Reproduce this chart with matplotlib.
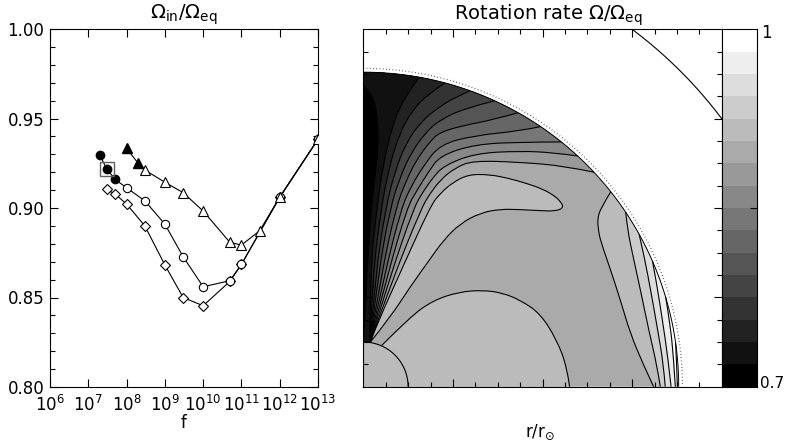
import numpy as np
import matplotlib
matplotlib.use("Agg")
import matplotlib.pyplot as plt
from matplotlib.path import Path
from matplotlib.patches import PathPatch
from matplotlib.ticker import MultipleLocator, FixedLocator, NullLocator

plt.rcParams['font.family'] = ['DejaVu Sans']
plt.rcParams['mathtext.default'] = 'regular'

# ---------------- left panel: Omega_in / Omega_eq versus f ----------------
f_circ = [2e7, 3e7, 5e7, 1e8, 3e8, 1e9, 3e9, 1e10, 5e10, 1e11, 1e12, 1e13]
om_circ = [0.9296, 0.9220, 0.9160, 0.9113, 0.9040, 0.8910, 0.8728, 0.8560,
           0.8594, 0.8685, 0.9060, 0.9384]
circ_filled = 3

f_tri = [1e8, 2e8, 3e8, 1e9, 3e9, 1e10, 5e10, 1e11, 3e11, 1e12, 1e13]
om_tri = [0.9333, 0.9250, 0.9212, 0.9144, 0.9086, 0.8983, 0.8808, 0.8793,
          0.8873, 0.9060, 0.9384]
tri_filled = 2

f_dia = [3e7, 5e7, 1e8, 3e8, 1e9, 3e9, 1e10, 5e10, 1e11, 1e12, 1e13]
om_dia = [0.9104, 0.9078, 0.9022, 0.8900, 0.8682, 0.8500, 0.8454, 0.8590,
          0.8685, 0.9060, 0.9384]

f_sel = 3e7
om_sel = 0.9220

x_decades = [6, 7, 8, 9, 10, 11, 12, 13]
y_ticks = [0.80, 0.85, 0.90, 0.95, 1.00]

# ---------------- right panel: contour lines of Omega/Omega_eq ----------------
# colour levels 0.7 ... 1.0 (16 bands)
band_count = 16
r_star = 1.408          # stellar surface
r_core = 0.2            # core boundary
r_dotted = 1.425
r_outer = 2.0
tip_theta = 8.6         # colatitude (deg) where the fan contours leave the core

# fan contours (level index, surface colatitude, interior points x / y)
lev2_x = [0.030, 0.060, 0.090, 0.130, 0.180]
lev2_y = [0.50, 0.80, 1.00, 1.17, 1.29]
lev3_x = [0.042, 0.080, 0.115, 0.160, 0.220, 0.290]
lev3_y = [0.50, 0.80, 0.98, 1.13, 1.24, 1.31]
lev4_x = [0.054, 0.100, 0.140, 0.190, 0.260, 0.343, 0.410]
lev4_y = [0.50, 0.80, 0.96, 1.09, 1.19, 1.255, 1.295]
lev5_x = [0.066, 0.120, 0.165, 0.215, 0.280, 0.343, 0.450]
lev5_y = [0.50, 0.80, 0.94, 1.05, 1.14, 1.195, 1.245]
lev6_x = [0.080, 0.145, 0.190, 0.240, 0.300, 0.343, 0.450, 0.580]
lev6_y = [0.50, 0.80, 0.92, 1.02, 1.10, 1.14, 1.17, 1.195]
lev7_x = [0.094, 0.170, 0.215, 0.270, 0.343, 0.500, 0.700]
lev7_y = [0.50, 0.80, 0.90, 0.99, 1.085, 1.125, 1.145]
lev8_x = [0.108, 0.195, 0.240, 0.290, 0.343, 0.500, 0.700]
lev8_y = [0.50, 0.80, 0.88, 0.96, 1.035, 1.085, 1.095]
lev9_x = [0.122, 0.225, 0.265, 0.310, 0.360, 0.500, 0.700, 0.850]
lev9_y = [0.50, 0.80, 0.87, 0.935, 0.99, 1.045, 1.055, 1.048]
lev10_x = [0.138, 0.260, 0.295, 0.343, 0.410, 0.490, 0.700, 0.900]
lev10_y = [0.50, 0.80, 0.86, 0.925, 0.98, 1.012, 1.005, 0.988]
fan_levels = [2, 3, 4, 5, 6, 7, 8, 9, 10]
fan_theta = [10.2, 15.0, 19.8, 24.6, 29.4, 34.2, 38.9, 42.8, 47.0]
fan_x = [lev2_x, lev3_x, lev4_x, lev5_x, lev6_x, lev7_x, lev8_x, lev9_x, lev10_x]
fan_y = [lev2_y, lev3_y, lev4_y, lev5_y, lev6_y, lev7_y, lev8_y, lev9_y, lev10_y]

# level-11 tongue: lower branch out to the tip, upper branch back
tongue_x = [0.120, 0.209, 0.290, 0.358, 0.432, 0.522, 0.611, 0.700, 0.790, 0.860,
            0.895, 0.880, 0.850, 0.800, 0.730, 0.641, 0.560, 0.470, 0.400, 0.343,
            0.300, 0.160, 0.070]
tongue_y = [0.310, 0.447, 0.560, 0.656, 0.730, 0.778, 0.795, 0.793, 0.788, 0.786,
            0.802, 0.830, 0.857, 0.885, 0.910, 0.935, 0.950, 0.950, 0.915, 0.865,
            0.810, 0.500, 0.300]

# level-11 arch around the core
arch_theta0 = 23.8
arch_x = [0.209, 0.313, 0.430, 0.536, 0.620, 0.700, 0.790, 0.864, 0.909]
arch_y = [0.313, 0.387, 0.425, 0.432, 0.420, 0.388, 0.328, 0.209, 0.089]
arch_r_eq = 0.921

# equatorial contours near the surface (levels 11 ... 16)
eq11_x = [1.060, 1.045, 1.050, 1.058, 1.105, 1.150, 1.192, 1.245]
eq11_y = [0.800, 0.750, 0.700, 0.656, 0.520, 0.380, 0.239, 0.110]
eq12_x = [1.180, 1.205, 1.240, 1.275, 1.310]
eq12_y = [0.700, 0.580, 0.420, 0.250, 0.100]
eq13_x = [1.255, 1.285, 1.315, 1.340]
eq13_y = [0.580, 0.420, 0.250, 0.100]
eq14_x = [1.310, 1.335, 1.360]
eq14_y = [0.460, 0.300, 0.130]
eq15_x = [1.370, 1.385]
eq15_y = [0.280, 0.130]
eq16_x = [1.400]
eq16_y = [0.080]
eq_levels = [11, 12, 13, 14, 15, 16]
eq_theta = [51.7, 56.3, 61.0, 66.5, 73.5, 82.0]
eq_r_bottom = [1.296, 1.326, 1.348, 1.374, 1.393, 1.402]
eq_x = [eq11_x, eq12_x, eq13_x, eq14_x, eq15_x, eq16_x]
eq_y = [eq11_y, eq12_y, eq13_y, eq14_y, eq15_y, eq16_y]

# slowest-rotating pocket along the axis (below level 1)
pocket_x = [0.000, 0.008, 0.015, 0.035, 0.060, 0.068, 0.062, 0.040, 0.000]
pocket_y = [0.215, 0.300, 0.500, 0.800, 1.000, 1.100, 1.220, 1.310, 1.345]


def band_color(i):
    g = min(max(i, 0), band_count - 1) / (band_count - 1)
    return (g, g, g)


def polar(r, th_deg):
    t = np.radians(th_deg)
    return np.array([r * np.sin(t), r * np.cos(t)])


def smooth(pts):
    pts = [np.asarray(p, float) for p in pts]
    n = len(pts)
    verts, codes = [pts[0]], [Path.LINETO]
    if n == 2:
        return verts + [pts[1]], codes + [Path.LINETO]
    for i in range(1, n - 1):
        end = pts[i + 1] if i == n - 2 else 0.5 * (pts[i] + pts[i + 1])
        verts += [pts[i], end]
        codes += [Path.CURVE3, Path.CURVE3]
    return verts, codes


def arc(r, t0, t1, n=120):
    th = np.linspace(t0, t1, n)
    return [polar(r, t) for t in th], [Path.LINETO] * n


def straight(pts):
    return [np.asarray(p, float) for p in pts], [Path.LINETO] * len(pts)


def build(pieces, closed=True):
    verts, codes = [], []
    for v, c in pieces:
        verts += list(v)
        codes += list(c)
    codes[0] = Path.MOVETO
    if closed:
        verts.append(verts[0])
        codes.append(Path.CLOSEPOLY)
    return Path(np.array(verts), codes)


fig = plt.figure(figsize=(7.86, 4.43), dpi=100)

# ---------------- left axes ----------------
W, H = 786.0, 443.0
ax1 = fig.add_axes([50 / W, 56 / H, 268 / W, 358 / H])
ax1.set_xscale('log')
ax1.set_xlim(1e6, 1e13)
ax1.set_ylim(0.80, 1.00)
lw = 0.8
ax1.plot(f_circ, om_circ, '-', color='k', lw=lw, zorder=2)
ax1.plot(f_tri, om_tri, '-', color='k', lw=lw, zorder=2)
ax1.plot(f_dia, om_dia, '-', color='k', lw=lw, zorder=2)
ax1.plot(f_dia, om_dia, 'D', ms=4.6, mfc='white', mec='k', mew=0.8, ls='none', zorder=3)
ax1.plot(f_circ[circ_filled:], om_circ[circ_filled:], 'o', ms=6.0, mfc='white',
         mec='k', mew=0.8, ls='none', zorder=3)
ax1.plot(f_tri[tri_filled:], om_tri[tri_filled:], '^', ms=7.0, mfc='white',
         mec='k', mew=0.8, ls='none', zorder=3)
ax1.plot(f_circ[:circ_filled], om_circ[:circ_filled], 'o', ms=6.0, mfc='k',
         mec='k', ls='none', zorder=4)
ax1.plot(f_tri[:tri_filled], om_tri[:tri_filled], '^', ms=7.0, mfc='k',
         mec='k', ls='none', zorder=4)
ax1.plot([f_sel], [om_sel], 's', ms=10.5, mfc='none', mec='#606060', mew=1.0,
         ls='none', zorder=5)

ax1.xaxis.set_major_locator(FixedLocator([10.0 ** d for d in x_decades]))
ax1.xaxis.set_minor_locator(NullLocator())
ax1.set_xticklabels([r'$10^{%d}$' % d for d in x_decades])
ax1.yaxis.set_major_locator(FixedLocator(y_ticks))
ax1.yaxis.set_minor_locator(MultipleLocator(0.01))
ax1.set_yticklabels(['%.2f' % v for v in y_ticks])
ax1.tick_params(which='both', direction='in', top=True, right=True, width=0.8,
                labelsize=12)
ax1.tick_params(which='major', length=6)
ax1.tick_params(which='minor', length=3.5)
ax1.tick_params(axis='x', pad=6)
ax1.tick_params(axis='y', pad=4)
for s in ax1.spines.values():
    s.set_linewidth(0.8)

# ---------------- right axes: meridional cut ----------------
ax2 = fig.add_axes([363.3 / W, 56.3 / H, 358.4 / W, 357.4 / H])
ax2.set_xlim(0, 1.6)
ax2.set_ylim(0, 1.6)

tip = polar(r_core, tip_theta)


def fill(path, band):
    ax2.add_patch(PathPatch(path, facecolor=band_color(band), edgecolor='none',
                            lw=0, zorder=1))


def line(path, **kw):
    style = dict(facecolor='none', edgecolor='k', lw=0.8, zorder=3)
    style.update(kw)
    ax2.add_patch(PathPatch(path, **style))


# whole star, band 10
fill(build([straight([(0, 0)]), arc(r_star, 90, 0)]), 10)

# core and arch (band 11)
arch_pts = [polar(r_core, arch_theta0)] + list(zip(arch_x, arch_y)) + [(arch_r_eq, 0)]
arch_path_pieces = smooth(arch_pts)
fill(build([arch_path_pieces, straight([(0, 0), (0, r_core)]),
            arc(r_core, 0, arch_theta0)]), 11)

# tongue (band 11)
tongue_pts = [tip] + list(zip(tongue_x, tongue_y)) + [tip]
tongue_path = build([smooth(tongue_pts)], closed=False)
fill(tongue_path, 11)

# equatorial layers (bands 11 ... 15)
eq_paths = []
for lev, th, rb, xs, ys in zip(eq_levels, eq_theta, eq_r_bottom, eq_x, eq_y):
    pts = [polar(r_star, th)] + list(zip(xs, ys)) + [(rb, 0)]
    sp = smooth(pts)
    eq_paths.append(build([sp], closed=False))
    fill(build([sp, straight([(r_star, 0)]), arc(r_star, 90, th)]), lev)

# polar fan (bands 9 ... 1), outermost first
fan_paths = []
for lev, th, xs, ys in sorted(zip(fan_levels, fan_theta, fan_x, fan_y),
                              key=lambda t: -t[0]):
    pts = [tip] + list(zip(xs, ys)) + [polar(r_star, th)]
    sp = smooth(pts)
    fan_paths.append(build([sp], closed=False))
    fill(build([sp, arc(r_star, th, 0), straight([(0, r_core)]),
                arc(r_core, 0, tip_theta)]), lev - 1)

# pocket (band 0)
pocket_path = build([smooth(list(zip(pocket_x, pocket_y)))])
fill(pocket_path, 0)

# contour lines
line(build([arch_path_pieces], closed=False))
line(tongue_path)
for p in eq_paths + fan_paths:
    line(p)
line(pocket_path)
line(build([arc(r_core, 0, 90)], closed=False))
line(build([arc(r_star, 0, 90)], closed=False), lw=0.7)
line(build([arc(r_dotted, 0, 90, 200)], closed=False), lw=0.9,
     edgecolor='0.25', linestyle=(0, (0.6, 2.0)))
line(build([arc(r_outer, 30, 60, 200)], closed=False), lw=0.8)

ax2.xaxis.set_major_locator(FixedLocator([0.4, 0.8, 1.2]))
ax2.xaxis.set_minor_locator(FixedLocator([0.1 * k for k in range(1, 16)]))
ax2.yaxis.set_major_locator(FixedLocator([0.4, 0.8, 1.2]))
ax2.yaxis.set_minor_locator(FixedLocator([0.1 * k for k in range(1, 16)]))
ax2.tick_params(which='both', direction='in', top=True, right=True, width=0.8,
                labelbottom=False, labelleft=False)
ax2.tick_params(which='major', length=6)
ax2.tick_params(which='minor', length=3.5)
for s in ax2.spines.values():
    s.set_linewidth(0.8)
    s.set_zorder(5)

# colour bar
cax = fig.add_axes([721.7 / W, 56.3 / H, 35.6 / W, 357.4 / H])
bar_levels = np.linspace(0.7, 1.0, band_count + 1)
cax.pcolormesh([0, 1], bar_levels, np.arange(band_count).reshape(-1, 1),
               cmap='gray', vmin=0, vmax=band_count - 1, shading='flat')
cax.set_xlim(0, 1)
cax.set_ylim(0.7, 1.0)
cax.set_xticks([])
cax.yaxis.set_major_locator(FixedLocator([0.85]))
cax.tick_params(axis='y', direction='in', left=False, right=True, labelleft=False,
                length=5, width=0.8)
for s in cax.spines.values():
    s.set_linewidth(0.8)

# texts
fig.text(184 / W, 1 - 15 / H, r'$\Omega_{in}/\Omega_{eq}$', ha='center', va='center',
         fontsize=14)
fig.text(184 / W, 1 - 423 / H, 'f', ha='center', va='center', fontsize=12)
fig.text(548 / W, 1 - 15 / H, r'Rotation rate $\Omega/\Omega_{eq}$', ha='center',
         va='center', fontsize=14)
fig.text(540 / W, 1 - 432 / H, r'$r/r_{\odot}$', ha='center', va='center', fontsize=12)
fig.text(761 / W, 1 - 33 / H, '1', ha='left', va='center', fontsize=12)
fig.text(760 / W, 1 - 384 / H, '0.7', ha='left', va='center', fontsize=11)

fig.savefig('out.png', dpi=100)
